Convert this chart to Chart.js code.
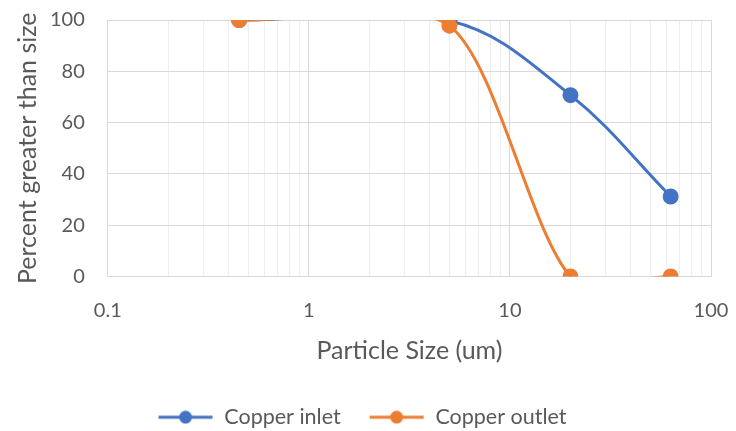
<!DOCTYPE html>
<html>
<head>
<meta charset="utf-8">
<script src="https://cdn.jsdelivr.net/npm/chart.js@4"></script>
<style>
  body { margin: 0; background: #fff; }
  #wrap { width: 736px; height: 431px; }
</style>
</head>
<body>
<div id="wrap"><canvas id="chart"></canvas></div>
<script>
// particle size (um) and percent greater than size
const sizes = [0.45, 5, 20, 63]
const inletValues = [100, 99.7, 70.7, 31.2]
const outletValues = [100, 97.8, 0, 0]
const seriesNames = ['Copper inlet', 'Copper outlet']
const xTickLabels = [0.1, 1, 10, 100]
const yTickLabels = [0, 20, 40, 60, 80, 100]

const blue = '#4472C4'
const orange = '#ED7D31'
const textColor = '#595959'
const fontFamily = 'Lato, "Open Sans", sans-serif'

/* legend marker: short line with a dot on it */
function legendMarker(color){
    const c = document.createElement('canvas')
    c.width = 56
    c.height = 14
    const g = c.getContext('2d')
    g.strokeStyle = color
    g.lineWidth = 3
    g.beginPath()
    g.moveTo(1, 7)
    g.lineTo(55, 7)
    g.stroke()
    g.fillStyle = color
    g.beginPath()
    g.arc(28, 7, 6.5, 0, Math.PI * 2)
    g.fill()
    return c
}
const markers = [legendMarker(blue), legendMarker(orange)]

function toPoints(values){
    return sizes.map((s, i) => ({x: s, y: values[i]}))
}

/* all log ticks 0.1..100 so minor gridlines show */
function logTicks(){
    const ticks = []
    for(let d = 0.1; d < 100; d *= 10){
        for(let m = 1; m < 10; m++){
            ticks.push({value: +(d * m).toPrecision(3)})
        }
    }
    ticks.push({value: 100})
    return ticks
}

const ctx = document.getElementById('chart').getContext('2d')
const myChart = new Chart(ctx, {
    type: 'line',
    data: {
        datasets: [
            {
                label: seriesNames[0],
                data: toPoints(inletValues),
                borderColor: blue,
                backgroundColor: blue,
                borderWidth: 3,
                pointRadius: 6.5,
                pointHoverRadius: 6.5,
                tension: 0.37,
                order: 1
            },
            {
                label: seriesNames[1],
                data: toPoints(outletValues),
                borderColor: orange,
                backgroundColor: orange,
                borderWidth: 3,
                pointRadius: 6.5,
                pointHoverRadius: 6.5,
                tension: 0.25,
                order: 0   // outlet drawn on top, like the original
            }
        ]
    },
    options: {
        responsive: true,
        maintainAspectRatio: false,
        animation: false,
        elements: { line: { capBezierPoints: false } },
        layout: { padding: { top: 20, right: 25, left: 13, bottom: -7 } },
        scales: {
            x: {
                type: 'logarithmic',
                min: 0.1,
                max: 100,
                afterBuildTicks: axis => { axis.ticks = logTicks() },
                ticks: {
                    autoSkip: false,
                    maxRotation: 0,
                    padding: 2,
                    color: textColor,
                    font: { family: fontFamily, size: 20 },
                    callback: v => xTickLabels.includes(v) ? String(v) : ''
                },
                grid: {
                    drawTicks: true,
                    tickLength: 20,
                    tickColor: 'rgba(0,0,0,0)',
                    color: c => xTickLabels.includes(c.tick.value) ? '#d9d9d9' : '#eeeeee',
                    lineWidth: 1
                },
                border: { display: false },
                title: {
                    display: true,
                    text: 'Particle Size (um)',
                    color: textColor,
                    font: { family: fontFamily, size: 25 },
                    padding: { top: 11, bottom: 13 }
                }
            },
            y: {
                min: 0,
                max: 100,
                afterBuildTicks: axis => { axis.ticks = yTickLabels.map(v => ({value: v})) },
                ticks: {
                    padding: 2,
                    color: textColor,
                    font: { family: fontFamily, size: 20 }
                },
                grid: {
                    drawTicks: true,
                    tickLength: 21,
                    tickColor: 'rgba(0,0,0,0)',
                    color: '#d9d9d9'
                },
                border: { display: false },
                title: {
                    display: true,
                    text: 'Percent greater than size',
                    color: textColor,
                    font: { family: fontFamily, size: 25 },
                    padding: { top: 0, bottom: 5 }
                }
            }
        },
        plugins: {
            tooltip: { enabled: false },
            legend: {
                position: 'bottom',
                labels: {
                    usePointStyle: true,
                    pointStyleWidth: 56,
                    padding: 28,
                    color: textColor,
                    font: { family: fontFamily, size: 21.5 },
                    generateLabels: chart => {
                        const items = Chart.defaults.plugins.legend.labels.generateLabels(chart)
                        items.sort((a, b) => a.datasetIndex - b.datasetIndex)
                        items.forEach(item => { item.pointStyle = markers[item.datasetIndex] })
                        return items
                    }
                }
            }
        }
    }
})
</script>
</body>
</html>
